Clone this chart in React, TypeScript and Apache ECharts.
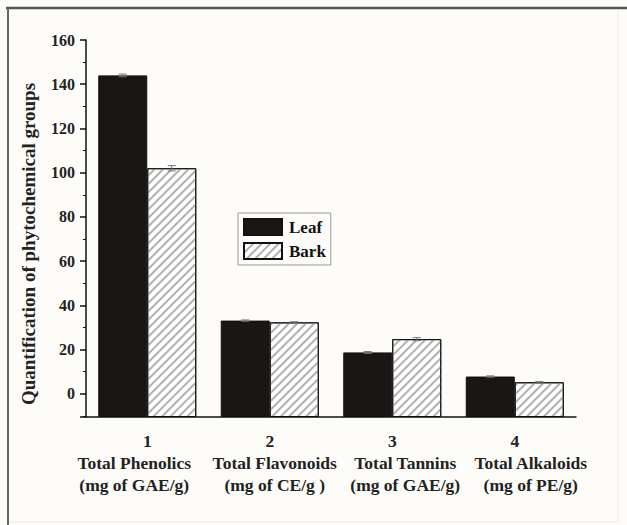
import React, { useEffect, useRef } from "react";
import * as echarts from "echarts";

const categoryNumbers = ["1", "2", "3", "4"];
const categoryNames = ["Total Phenolics", "Total Flavonoids", "Total Tannins", "Total Alkaloids"];
const categoryUnits = ["(mg of GAE/g)", "(mg of CE/g )", "(mg of GAE/g)", "(mg of PE/g)"];
const seriesNames = ["Leaf", "Bark"];
const leafValues = [144.0, 33.1, 18.7, 7.8];
const barkValues = [102.0, 32.3, 24.7, 5.2];
const leafErrors = [0.6, 0.3, 0.4, 0.3];
const barkErrors = [1.2, 0.3, 0.7, 0.3];
const yTitle = "Quantification of phytochemical groups";
const yMin = -10.5;
const yMax = 160;

// horizontal shift (px) of the name/unit lines relative to the category number
const labelShifts = [-13, 5, 13, 16];

const FONT = "Liberation Serif";

export default function App() {
  const ref = useRef<HTMLDivElement>(null);
  useEffect(() => {
    document.body.style.margin = "0";
    const chart = echarts.init(ref.current!, null, { renderer: "svg" });
    const categories = categoryNumbers.map(
      (n, i) => `${n}\n${categoryNames[i]}\n${categoryUnits[i]}`
    );
    const rich: any = { n: { fontFamily: FONT, fontWeight: "bold", fontSize: 17.5, color: "#222", lineHeight: 22 } };
    labelShifts.forEach((s, i) => {
      rich["t" + i] = {
        fontFamily: FONT,
        fontWeight: "bold",
        fontSize: 17.5,
        color: "#222",
        lineHeight: 22,
        padding: s < 0 ? [0, -2 * s, 0, 0] : [0, 0, 0, 2 * s],
      };
    });
    // bars rise from the bottom of the axis (yMin); a hidden axis shifted by yMin carries them
    const shift = (v: number) => v - yMin;
    const errData: any[] = [];
    leafValues.forEach((v, i) => errData.push([i, shift(v), leafErrors[i], -1]));
    barkValues.forEach((v, i) => errData.push([i, shift(v), barkErrors[i], 1]));

    const option: any = {
      animation: false,
      backgroundColor: "#fdfcf9",
      textStyle: { fontFamily: FONT },
      grid: { left: 86, right: 51, top: 40, bottom: 108, containLabel: false },
      legend: {
        data: seriesNames,
        orient: "vertical",
        left: 238,
        top: 213,
        icon: "rect",
        itemWidth: 38,
        itemHeight: 16,
        itemGap: 6,
        padding: [5, 5, 5, 5],
        borderColor: "#999",
        borderWidth: 1,
        textStyle: { fontFamily: FONT, fontWeight: "bold", fontSize: 17, color: "#111", padding: [0, 0, 0, 2] },
      },
      xAxis: [
        {
          type: "category",
          data: categories,
          axisLine: { onZero: false, lineStyle: { color: "#111", width: 1.5 } },
          axisTick: { alignWithLabel: true, length: 6, lineStyle: { color: "#111", width: 1.5 } },
          axisLabel: {
            interval: 0,
            margin: 13,
            fontFamily: FONT,
            fontWeight: "bold",
            fontSize: 17.5,
            lineHeight: 22,
            color: "#222",
            formatter: (v: string, idx: number) => {
              const i = categories.indexOf(v);
              const k = i >= 0 ? i : idx;
              return `{n|${categoryNumbers[k]}}\n{t${k}|${categoryNames[k]}}\n{t${k}|${categoryUnits[k]}}`;
            },
            rich,
          },
        },
        {
          type: "category",
          data: categories,
          position: "bottom",
          axisLine: { show: false, onZero: false },
          axisTick: { inside: true, length: 3, lineStyle: { color: "#111", width: 1 } },
          axisLabel: { show: false },
        },
      ],
      yAxis: [
        {
          type: "value",
          min: yMin,
          max: yMax,
          splitNumber: 8,
          splitLine: { show: false },
          axisLine: { show: true, onZero: false, lineStyle: { color: "#111", width: 1.5 } },
          axisTick: { show: true, length: 6, lineStyle: { color: "#111", width: 1.5 } },
          minorTick: { show: true, splitNumber: 2, length: 3, lineStyle: { color: "#111", width: 1 } },
          axisLabel: {
            margin: 11,
            fontFamily: FONT,
            fontWeight: "bold",
            fontSize: 16,
            color: "#222",
            formatter: (v: number) => (v % 20 === 0 ? String(v) : ""),
          },
        },
        {
          type: "value",
          show: false,
          min: 0,
          max: yMax - yMin,
          splitLine: { show: false },
        },
      ],
      graphic: [
        {
          type: "text",
          x: 28,
          y: 244,
          rotation: Math.PI / 2,
          style: {
            text: yTitle,
            font: `bold 19px "${FONT}"`,
            fill: "#222",
            textAlign: "center",
            textVerticalAlign: "middle",
          },
        },
        { type: "line", shape: { x1: 6, y1: 8, x2: 627, y2: 8 }, style: { stroke: "#555", lineWidth: 2.5 } },
        { type: "line", shape: { x1: 8, y1: 8, x2: 8, y2: 525 }, style: { stroke: "#666", lineWidth: 2 } },
        { type: "line", shape: { x1: 618, y1: 10, x2: 618, y2: 522 }, style: { stroke: "#e8e8e8", lineWidth: 1 } },
        { type: "line", shape: { x1: 9, y1: 522, x2: 618, y2: 522 }, style: { stroke: "#e8e8e8", lineWidth: 1 } },
      ],
      series: [
        {
          name: seriesNames[0],
          type: "bar",
          yAxisIndex: 1,
          data: leafValues.map(shift),
          barGap: "0%",
          barCategoryGap: "20%",
          itemStyle: { color: "#1a1614", borderColor: "#111", borderWidth: 1 },
        },
        {
          name: seriesNames[1],
          type: "bar",
          yAxisIndex: 1,
          data: barkValues.map(shift),
          itemStyle: {
            color: "#ffffff",
            borderColor: "#111",
            borderWidth: 1,
            decal: {
              symbol: "rect",
              symbolSize: 1,
              color: "#b0b0b0",
              dashArrayX: [1, 0],
              dashArrayY: [1.5, 3.5],
              rotation: -Math.PI / 4,
            },
          },
        },
        {
          type: "custom",
          yAxisIndex: 1,
          data: errData,
          encode: { x: 0, y: 1 },
          z: 5,
          silent: true,
          renderItem: (params: any, api: any) => {
            const cat = api.value(0);
            const val = api.value(1);
            const err = api.value(2);
            const side = api.value(3);
            const band = api.size([1, 0])[0];
            const bw = (band * 0.8) / 2;
            const top = api.coord([cat, val + err]);
            const bot = api.coord([cat, val - err]);
            const x = top[0] + (side * bw) / 2;
            const st = { stroke: "#777", lineWidth: 1 };
            return {
              type: "group",
              children: [
                { type: "line", shape: { x1: x, y1: top[1], x2: x, y2: bot[1] }, style: st },
                { type: "line", shape: { x1: x - 4, y1: top[1], x2: x + 4, y2: top[1] }, style: st },
                { type: "line", shape: { x1: x - 4, y1: bot[1], x2: x + 4, y2: bot[1] }, style: st },
              ],
            };
          },
        },
      ],
    };
    chart.setOption(option);
    return () => chart.dispose();
  }, []);
  return <div ref={ref} style={{ width: 627, height: 525 }} />;
}
